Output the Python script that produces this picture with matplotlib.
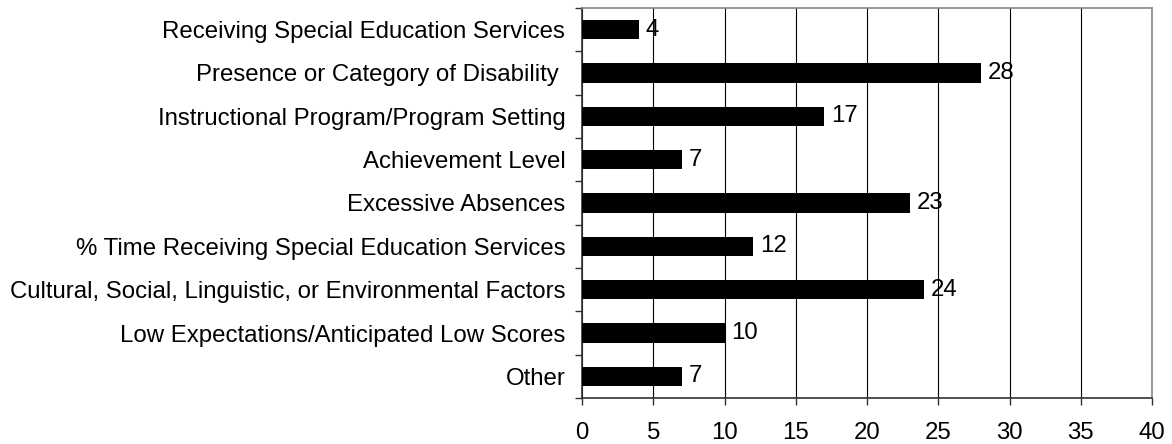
import matplotlib
matplotlib.use("Agg")
import matplotlib.pyplot as plt
import numpy as np

# 数据
categories = [
    "Receiving Special Education Services",
    "Presence or Category of Disability ",
    "Instructional Program/Program Setting",
    "Achievement Level",
    "Excessive Absences",
    "% Time Receiving Special Education Services",
    "Cultural, Social, Linguistic, or Environmental Factors",
    "Low Expectations/Anticipated Low Scores",
    "Other",
]
values = [4, 28, 17, 7, 23, 12, 24, 10, 7]
x_ticks = [0, 5, 10, 15, 20, 25, 30, 35, 40]

plt.rcParams["font.family"] = ["Liberation Sans", "DejaVu Sans"]
FS = 17.3

fig = plt.figure(figsize=(11.72, 4.44), dpi=100)
ax = fig.add_axes([0.4966, 0.1036, 0.4864, 0.8784])

n = len(categories)
y = np.arange(n)
ax.barh(y, values, height=0.45, color="black", zorder=3)

# 数值标签
for yi, v in zip(y, values):
    ax.annotate(str(v), (v, yi), xytext=(5, 0), textcoords="offset points",
                va="center", ha="left", fontsize=FS, zorder=4)

ax.set_xlim(0, 40)
ax.set_ylim(n - 0.5, -0.5)
ax.set_xticks(x_ticks)
ax.set_xticklabels([str(t) for t in x_ticks], fontsize=FS)
ax.set_yticks(y)
ax.set_yticklabels(categories, fontsize=FS)
ax.set_yticks(np.arange(n + 1) - 0.5, minor=True)
ax.tick_params(axis="y", which="major", length=0, pad=12)
ax.tick_params(axis="y", which="minor", length=5, width=1, color="#333333")
ax.tick_params(axis="x", length=5, width=1, color="#333333", pad=12)

ax.grid(axis="x", color="black", linewidth=0.8, zorder=0)
for s in ["top", "right"]:
    ax.spines[s].set_color("#888888")
    ax.spines[s].set_linewidth(1.2)
for s in ["left", "bottom"]:
    ax.spines[s].set_color("#333333")
    ax.spines[s].set_linewidth(1.2)

fig.savefig("out.png", dpi=100)
